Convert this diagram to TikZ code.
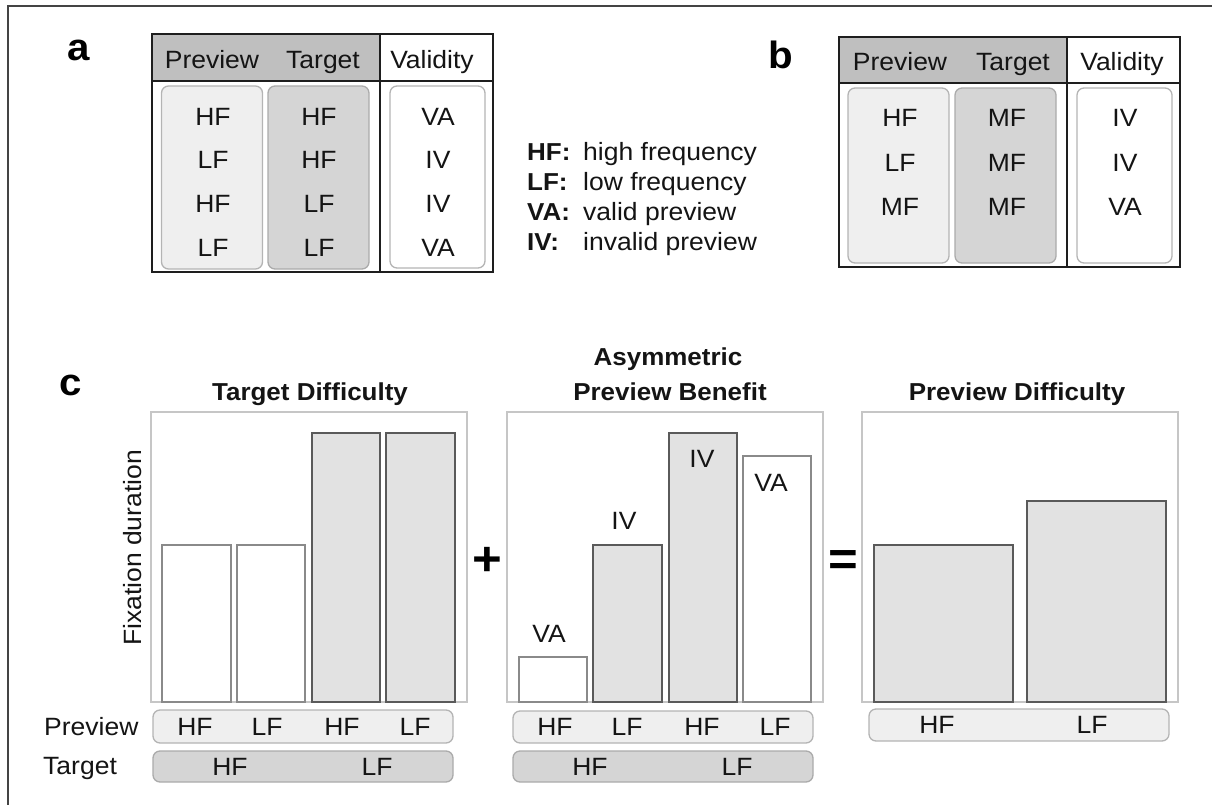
\documentclass[tikz,border=0pt]{standalone}
\usepackage{fontspec}
\setmainfont[FakeStretch=1.06]{Liberation Sans}

\definecolor{headgray}{HTML}{BFBFBF}
\definecolor{lightfill}{HTML}{EFEFEF}
\definecolor{lightedge}{HTML}{B4B4B4}
\definecolor{midfill}{HTML}{D5D5D5}
\definecolor{midedge}{HTML}{ABABAB}
\definecolor{ruleink}{HTML}{1E1E1E}
\definecolor{plotedge}{HTML}{C6C6C6}
\definecolor{barfill}{HTML}{E2E2E2}
\definecolor{baredge}{HTML}{5A5A5A}
\definecolor{whiteedge}{HTML}{8A8A8A}
\definecolor{outerline}{HTML}{444444}

\tikzset{
  txt/.style={inner sep=0pt, text height=17.9pt, text depth=0pt,
    font=\fontsize{25}{29}\selectfont, text=black!92},
  boldtxt/.style={txt, font=\fontsize{24.5}{29}\selectfont\bfseries},
  panellabel/.style={inner sep=0pt, anchor=base, font=\fontsize{38}{42}\selectfont\bfseries},
  opsign/.style={inner sep=0pt, font=\fontsize{48}{52}\selectfont\bfseries},
  colbox/.style={rounded corners=7pt, line width=1.3pt},
  prevbox/.style={colbox, fill=lightfill, draw=lightedge},
  targbox/.style={colbox, fill=midfill, draw=midedge},
  validbox/.style={colbox, fill=white, draw=lightedge},
  tablerule/.style={draw=ruleink, line width=1.4pt},
  plotframe/.style={draw=plotedge, line width=1.3pt},
  lowbar/.style={fill=white, draw=whiteedge, line width=1.3pt},
  highbar/.style={fill=barfill, draw=baredge, line width=1.3pt},
}

\begin{document}
\begin{tikzpicture}[x=1pt, y=-1pt]
\useasboundingbox (0,0) rectangle (1212,805);

% outer frame (left and top edges)
\draw[outerline, line width=1.3pt] (8,805) -- (8,6) -- (1212,6);

% ---------------- panel a ----------------
\node[panellabel] (la) at (79,61) {a};
\fill[headgray] (152,34) rectangle (380,81);
\fill[white] (380,34) rectangle (493,81);
\draw[prevbox]  (161.5,86) rectangle (262.5,269);
\draw[targbox]  (268,86) rectangle (369,269);
\draw[validbox] (390,86) rectangle (485,268);
\draw[tablerule] (152,34) rectangle (493,272);
\draw[tablerule] (380,34) -- (380,272);
\draw[ruleink, line width=2.2pt] (152,81) -- (493,81);

\node[txt] (ahp) at (212,60) {Preview};
\node[txt] (aht) at (323,60) {Target};
\node[txt] (ahv) at (432,60) {Validity};

\node[txt] (ap1) at (213,117) {HF};
\node[txt] (ap2) at (213,160) {LF};
\node[txt] (ap3) at (213,204) {HF};
\node[txt] (ap4) at (213,248) {LF};
\node[txt] (at1) at (319,117) {HF};
\node[txt] (at2) at (319,160) {HF};
\node[txt] (at3) at (319,204) {LF};
\node[txt] (at4) at (319,248) {LF};
\node[txt] (av1) at (438,117) {VA};
\node[txt] (av2) at (438,160) {IV};
\node[txt] (av3) at (438,204) {IV};
\node[txt] (av4) at (438,248) {VA};

% legend
\node[boldtxt, anchor=west] (k1) at (527,152) {HF:};
\node[boldtxt, anchor=west] (k2) at (527,182) {LF:};
\node[boldtxt, anchor=west] (k3) at (527,212) {VA:};
\node[boldtxt, anchor=west] (k4) at (527,242) {IV:};
\node[txt, anchor=west] (d1) at (583,152) {high frequency};
\node[txt, anchor=west] (d2) at (583,182) {low frequency};
\node[txt, anchor=west] (d3) at (583,212) {valid preview};
\node[txt, anchor=west] (d4) at (583,242) {invalid preview};

% ---------------- panel b ----------------
\node[panellabel] (lb) at (781,69) {b};
\fill[headgray] (839,37) rectangle (1067,83);
\draw[prevbox]  (848,88) rectangle (949,263);
\draw[targbox]  (955,88) rectangle (1056,263);
\draw[validbox] (1077,88) rectangle (1172,263);
\draw[tablerule] (839,37) rectangle (1180,267);
\draw[tablerule] (1067,37) -- (1067,267);
\draw[ruleink, line width=2.2pt] (839,83) -- (1180,83);

\node[txt] (bhp) at (900,62) {Preview};
\node[txt] (bht) at (1013,62) {Target};
\node[txt] (bhv) at (1122,62) {Validity};

\node[txt] (bp1) at (900,118) {HF};
\node[txt] (bp2) at (900,163) {LF};
\node[txt] (bp3) at (900,207) {MF};
\node[txt] (bt1) at (1007,118) {MF};
\node[txt] (bt2) at (1007,163) {MF};
\node[txt] (bt3) at (1007,207) {MF};
\node[txt] (bv1) at (1125,118) {IV};
\node[txt] (bv2) at (1125,163) {IV};
\node[txt] (bv3) at (1125,207) {VA};

% ---------------- panel c ----------------
\node[panellabel] (lc) at (71,395) {c};

% titles
\node[boldtxt] (t1) at (310,392) {Target Difficulty};
\node[boldtxt] (t2a) at (668,357) {Asymmetric};
\node[boldtxt] (t2b) at (670,392) {Preview Benefit};
\node[boldtxt] (t3) at (1017,392) {Preview Difficulty};

% y axis label
\node[txt, rotate=90] (ylab) at (133,548) {Fixation duration};

% target difficulty
\draw[plotframe] (151,412) rectangle (467,702);
\draw[lowbar]  (162,545) rectangle (231,702);
\draw[lowbar]  (237,545) rectangle (305,702);
\draw[highbar] (312,433) rectangle (380,702);
\draw[highbar] (386,433) rectangle (455,702);

% asymmetric preview benefit
\draw[plotframe] (507,412) rectangle (823,702);
\draw[lowbar]  (519,657) rectangle (587,702);
\draw[highbar] (593,545) rectangle (662,702);
\draw[highbar] (669,433) rectangle (737,702);
\draw[lowbar]  (743,456) rectangle (811,702);
\node[txt] (v1) at (549,634) {VA};
\node[txt] (v2) at (624,521) {IV};
\node[txt] (v3) at (702,459) {IV};
\node[txt] (v4) at (771,483) {VA};

% preview difficulty
\draw[plotframe] (862,412) rectangle (1178,702);
\draw[highbar] (874,545) rectangle (1013,702);
\draw[highbar] (1027,501) rectangle (1166,702);

% operators
\node[opsign] (plus) at (487,561) {+};
\node[opsign] (eq) at (843,563) {=};

% condition strips
\node[txt, anchor=west] (rowp) at (44,727) {Preview};
\node[txt, anchor=west] (rowt) at (43,766) {Target};

\draw[prevbox] (153,710) rectangle (453,743);
\draw[targbox] (153,751) rectangle (453,782);
\node[txt] (c1p1) at (195,727) {HF};
\node[txt] (c1p2) at (267,727) {LF};
\node[txt] (c1p3) at (342,727) {HF};
\node[txt] (c1p4) at (415,727) {LF};
\node[txt] (c1t1) at (230,767) {HF};
\node[txt] (c1t2) at (377,767) {LF};

\draw[prevbox] (513,711) rectangle (813,743);
\draw[targbox] (513,751) rectangle (813,782);
\node[txt] (c2p1) at (555,727) {HF};
\node[txt] (c2p2) at (627,727) {LF};
\node[txt] (c2p3) at (702,727) {HF};
\node[txt] (c2p4) at (775,727) {LF};
\node[txt] (c2t1) at (590,767) {HF};
\node[txt] (c2t2) at (737,767) {LF};

\draw[prevbox] (869,709) rectangle (1169,741);
\node[txt] (c3p1) at (937,725) {HF};
\node[txt] (c3p2) at (1092,725) {LF};
\end{tikzpicture}
\end{document}
